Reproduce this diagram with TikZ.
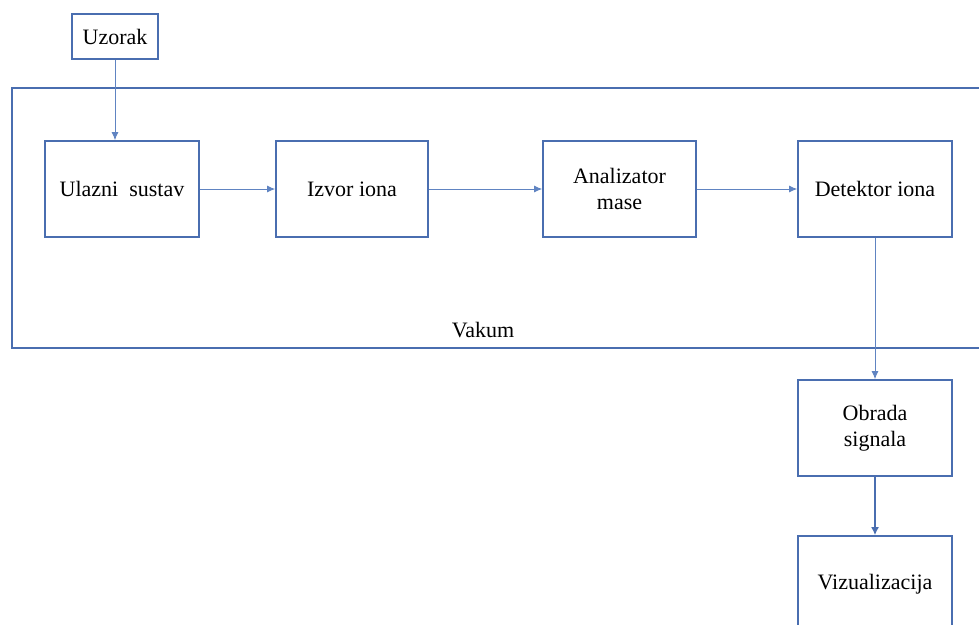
\documentclass[tikz,border=0pt]{standalone}
\usepackage{fontspec}
\setmainfont{Liberation Serif}
\usetikzlibrary{arrows.meta}
\definecolor{boxblue}{RGB}{74,110,176}
\definecolor{arrblue}{RGB}{96,132,194}
\begin{document}
\begin{tikzpicture}[x=1pt,y=-1pt,
  lbl/.style={font=\rmfamily\fontsize{22}{26}\selectfont},
  blk/.style={lbl,draw=boxblue,line width=1.6pt,minimum width=154pt,minimum height=96pt,inner sep=0pt,align=center},
  conn/.style={draw=arrblue,line width=1pt,-{Latex[length=8pt,width=7pt]}},
  thickconn/.style={draw=boxblue,line width=1.8pt,-{Latex[length=8pt,width=8pt]}}]
\useasboundingbox (0,0) rectangle (979,624);
\clip (0,0) rectangle (979,624);
% vacuum enclosure
\coordinate (vtl) at (12,88);
\coordinate (vbr) at (995,348);
\draw[boxblue,line width=2.6pt] (vtl) rectangle (vbr);
\node[lbl,inner sep=0pt] (vak) at (483,330) {Vakum};
% blocks
\node[blk,minimum width=86pt,minimum height=45pt] (uz) at (115,36.5) {Uzorak};
\node[blk] (ul) at (122,189) {Ulazni\ \ sustav};
\node[blk,minimum width=152pt] (iz) at (352,189) {Izvor iona};
\node[blk,minimum width=153pt] (an) at (619.5,189) {Analizator\\mase};
\node[blk] (de) at (875,189) {Detektor iona};
\node[blk] (ob) at (875,428) {Obrada\\signala};
\node[blk] (vi) at (875,584) {Vizualizacija};
% connectors
\draw[conn] (uz.south) -- (uz.south |- ul.north);
\draw[conn] (ul.east) -- (iz.west);
\draw[conn] (iz.east) -- (an.west);
\draw[conn] (an.east) -- (de.west);
\draw[conn] (de.south) -- (ob.north);
\draw[thickconn] (ob.south) -- (vi.north);
\end{tikzpicture}
\end{document}
